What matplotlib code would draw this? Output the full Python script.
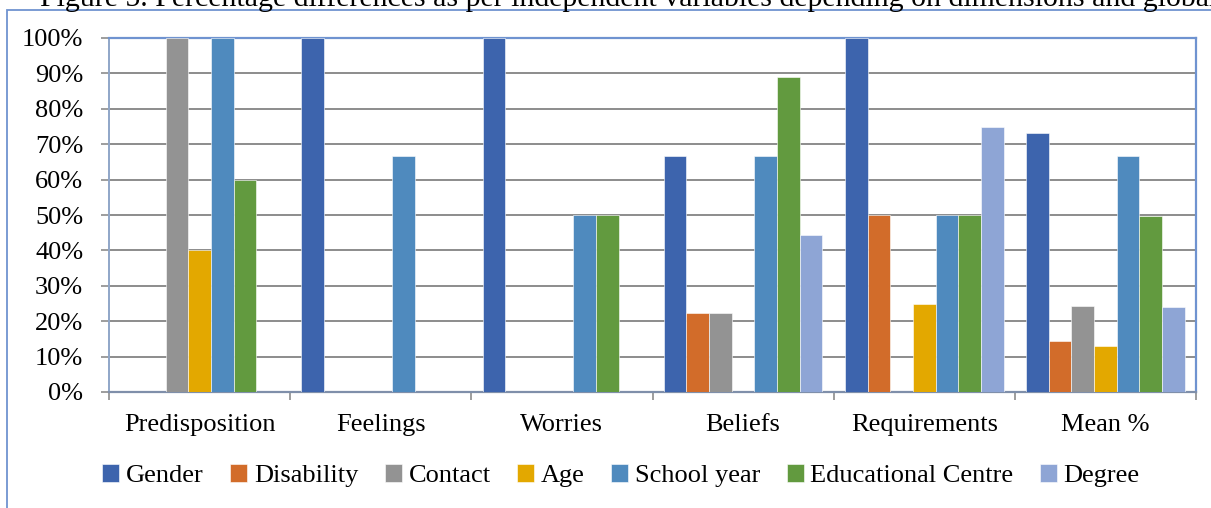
import numpy as np
import matplotlib
matplotlib.use("Agg")
import matplotlib.pyplot as plt
import matplotlib.patches as mpatches
from matplotlib.ticker import PercentFormatter

plt.rcParams['font.family'] = ['Liberation Serif', 'DejaVu Serif']

dimensions = ["Predisposition", "Feelings", "Worries", "Beliefs", "Requirements", "Mean %"]
series_names = ["Gender", "Disability", "Contact", "Age", "School year",
                "Educational Centre", "Degree"]

gender = [0, 100, 100, 66.7, 100, 73.3]
disability = [0, 0, 0, 22.2, 50, 14.4]
contact = [100, 0, 0, 22.2, 0, 24.4]
age = [40, 0, 0, 0, 25, 13.0]
school_year = [100, 66.7, 50, 66.7, 50, 66.7]
edu_centre = [60, 0, 50, 88.9, 50, 49.6]
degree = [0, 0, 0, 44.4, 75, 23.9]

colors = ["#3D64AD", "#D26C2A", "#939393", "#E3A800", "#4F8ABE", "#629A3F", "#8EA5D5"]

W, H = 1211, 508
FS = 19
fig = plt.figure(figsize=(W / 100, H / 100), dpi=100)

# outer chart frame (partially outside the image)
fig.patches.append(mpatches.Rectangle((7 / W, -0.1), 1.2, (H - 10.5) / H + 0.1,
                                      transform=fig.transFigure, fill=False,
                                      edgecolor="#6F93D0", linewidth=1.3))
# caption sits above the frame and is cut off by the image edge, as in the source
fig.text(40 / W, 1 - 6 / H, "Figure 5. Percentage differences as per independent variables "
         "depending on dimensions and global", fontsize=21.5, ha="left", va="baseline")

ax = fig.add_axes([109 / W, 1 - 392 / H, (1196 - 109) / W, (392 - 38) / H])

data = [gender, disability, contact, age, school_year, edu_centre, degree]
x = np.arange(len(dimensions))
bw = 1 / 8
for i, (vals, name, c) in enumerate(zip(data, series_names, colors)):
    ax.bar(x - 3 * bw + i * bw, vals, width=bw, color=c, label=name,
           edgecolor="white", linewidth=0.4, zorder=3)

ax.set_xlim(-0.5, len(dimensions) - 0.5)
ax.set_ylim(0, 100)
ax.set_yticks(np.arange(0, 101, 10))
ax.yaxis.set_major_formatter(PercentFormatter(decimals=0))
ax.grid(axis="y", color="#8C8C8C", linewidth=1.4, zorder=0)

ax.set_xticks(x)
ax.set_xticklabels(dimensions)
ax.set_xticks(np.arange(-0.5, len(dimensions)), minor=True)
ax.tick_params(axis="x", which="major", length=0, labelsize=FS, pad=16)
ax.tick_params(axis="x", which="minor", length=6, color="#8C8C8C", width=1.2)
ax.tick_params(axis="y", length=6, color="#8C8C8C", width=1.2, labelsize=FS, pad=12.5)

for s in ["top", "right"]:
    ax.spines[s].set_color("#6F93D0")
    ax.spines[s].set_linewidth(1.6)
ax.spines["left"].set_color("#8FA6C8")
ax.spines["bottom"].set_color("#7F8FAA")
ax.spines["left"].set_linewidth(1.4)
ax.spines["bottom"].set_linewidth(1.6)

ax.legend(loc="center", bbox_to_anchor=(0.471, -0.237), ncol=7, frameon=False,
          fontsize=FS, handlelength=0.65, handleheight=0.65, handletextpad=0.25,
          columnspacing=1.0)

fig.savefig("out.png", dpi=100)
